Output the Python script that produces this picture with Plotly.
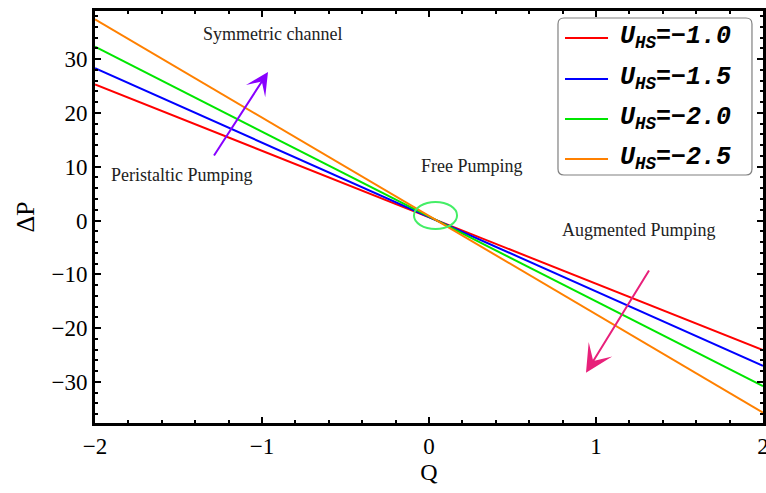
import plotly.graph_objects as go

# Pressure rise versus flow rate for several slip velocities
q = [-2.0, 2.0]
u_hs = [-1.0, -1.5, -2.0, -2.5]
dp_u1 = [25.3, -24.1]
dp_u15 = [28.3, -27.0]
dp_u2 = [32.3, -30.8]
dp_u25 = [37.4, -35.7]

series = [dp_u1, dp_u15, dp_u2, dp_u25]
colors = ["#ff0000", "#0000ff", "#00e600", "#ff8000"]

fig = go.Figure()
for vals, col, u in zip(series, colors, u_hs):
    fig.add_trace(go.Scatter(x=q, y=vals, mode="lines",
                             line=dict(color=col, width=2),
                             name=f"U_HS={u:.1f}", showlegend=False))

serif = "Liberation Serif"
axis_common = dict(
    showline=True, linecolor="black", linewidth=3, mirror="ticks",
    ticks="inside", ticklen=6, tickwidth=1.5, tickcolor="black",
    showgrid=False, zeroline=False, automargin=False,
    ticklabeloverflow="allow",
    tickfont=dict(family=serif, size=23, color="black"),
)

fig.update_xaxes(range=[-2, 2], dtick=1, **axis_common,
                 minor=dict(ticks="inside", dtick=0.2, ticklen=3, tickcolor="black", tickwidth=1.5),
                 title=dict(text="Q", font=dict(family=serif, size=24, color="black"), standoff=6))
fig.update_yaxes(range=[-37.64, 38.94], dtick=10, **axis_common,
                 minor=dict(ticks="inside", dtick=2, ticklen=3, tickcolor="black", tickwidth=1.5),
                 title=dict(text="ΔP", font=dict(family=serif, size=26, color="black"), standoff=10))

# Region labels
labels = [
    ("Symmetric channel", -0.94, 34.7),
    ("Peristaltic Pumping", -1.479, 8.46),
    ("Free Pumping", 0.257, 10.1),
    ("Augmented Pumping", 1.257, -1.77),
]
for txt, x, y in labels:
    fig.add_annotation(x=x, y=y, xref="x", yref="y", text=txt, showarrow=False,
                       font=dict(family=serif, size=18, color="#222222"))

# Direction arrows
fig.add_annotation(x=-0.964, y=27.6, ax=-1.293, ay=11.8, xref="x", yref="y",
                   axref="x", ayref="y", showarrow=True, arrowhead=3,
                   arrowsize=1.9, arrowwidth=2, arrowcolor="#8800ff", text="")
fig.add_annotation(x=0.940, y=-28.3, ax=1.323, ay=-9.0, xref="x", yref="y",
                   axref="x", ayref="y", showarrow=True, arrowhead=3,
                   arrowsize=2.3, arrowwidth=2, arrowcolor="#e8207a", text="")

# Ellipse around the common crossing point
fig.add_shape(type="circle", xref="x", yref="y", x0=-0.09, x1=0.168, y0=-1.58, y1=3.44,
              line=dict(color="#44ee66", width=2))

# Legend box with rounded corners
x0, x1, y0, y1 = 0.6931, 0.9835, 0.6019, 0.983
rx, ry = 0.009, 0.0146
path = (f"M{x0+rx},{y1} L{x1-rx},{y1} Q{x1},{y1} {x1},{y1-ry} "
        f"L{x1},{y0+ry} Q{x1},{y0} {x1-rx},{y0} L{x0+rx},{y0} "
        f"Q{x0},{y0} {x0},{y0+ry} L{x0},{y1-ry} Q{x0},{y1} {x0+rx},{y1} Z")
fig.add_shape(type="path", path=path, xref="paper", yref="paper",
              line=dict(color="#808080", width=1.2), fillcolor="white")

legend_y = [0.9345, 0.835, 0.7379, 0.6408]
for col, u, ly in zip(colors, u_hs, legend_y):
    fig.add_shape(type="line", xref="paper", yref="paper", x0=0.7036, x1=0.768,
                  y0=ly, y1=ly, line=dict(color=col, width=2))
    val = f"{u:.1f}".replace("-", "\u2212")
    fig.add_annotation(xref="paper", yref="paper", x=0.7829, y=ly, xanchor="left",
                       yanchor="middle", showarrow=False,
                       text=f"U<sub>HS</sub>={val}",
                       font=dict(family="Liberation Mono", size=25, color="black",
                                 weight="bold", style="italic"))

fig.update_layout(
    width=766, height=493,
    margin=dict(l=95, r=3, t=11, b=70),
    paper_bgcolor="white", plot_bgcolor="white",
)

fig.write_html("out.html")
